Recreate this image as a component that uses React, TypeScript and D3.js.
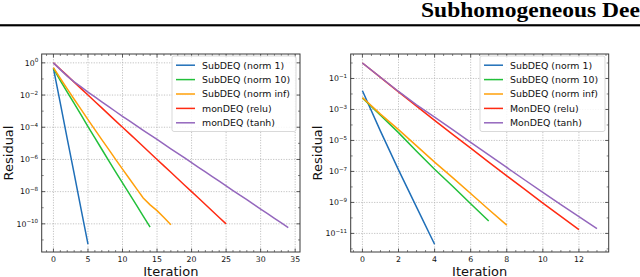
import React from "react";
import * as d3 from "d3";

// ---------- data (residual per iteration) ----------
const leftNames = ["SubDEQ (norm 1)", "SubDEQ (norm 10)", "SubDEQ (norm inf)", "monDEQ (relu)", "monDEQ (tanh)"];
const rightNames = ["SubDEQ (norm 1)", "SubDEQ (norm 10)", "SubDEQ (norm inf)", "MonDEQ (relu)", "MonDEQ (tanh)"];
const colors = ["#1f6fb8", "#22c03a", "#ffa00a", "#ff2a12", "#9467bd"];

const leftNorm1 = [4.5e-1, 3.0e-3, 1.9e-5, 1.3e-7, 8.3e-10, 5.5e-12];
const leftNorm10 = [4.5e-1, 7.9e-2, 1.5e-2, 3.0e-3, 5.8e-4, 1.1e-4, 2.2e-5, 4.3e-6, 8.5e-7, 1.7e-7, 3.5e-8, 7.2e-9, 1.5e-9, 3.0e-10, 6.3e-11];
const leftNormInf = [5.0e-1, 1.07e-1, 2.4e-2, 5.5e-3, 1.3e-3, 3.0e-4, 7.1e-5, 1.7e-5, 4.2e-6, 1.0e-6, 2.5e-7, 6.3e-8, 1.6e-8, 4.0e-9, 1.5e-9, 6.6e-10, 2.5e-10, 8.7e-11];
const leftRelu = [1.0, 4.0e-1, 1.6e-1, 6.3e-2, 2.5e-2, 1.0e-2, 4.0e-3, 1.6e-3, 6.3e-4, 2.5e-4, 1.0e-4, 4.0e-5, 1.6e-5, 6.3e-6, 2.5e-6, 1.0e-6, 4.0e-7, 1.6e-7, 6.3e-8, 2.5e-8, 1.0e-8, 4.0e-9, 1.6e-9, 6.3e-10, 2.5e-10, 1.0e-10];
const leftTanh = [1.0, 3.8e-1, 1.5e-1, 6.6e-2, 3.2e-2, 1.5e-2, 7.6e-3, 3.8e-3, 1.9e-3, 9.5e-4, 4.8e-4, 2.5e-4, 1.26e-4, 6.5e-5, 3.4e-5, 1.74e-5, 8.9e-6, 4.6e-6, 2.4e-6, 1.23e-6, 6.3e-7, 3.2e-7, 1.66e-7, 8.7e-8, 4.5e-8, 2.3e-8, 1.17e-8, 6.0e-9, 3.2e-9, 1.62e-9, 8.3e-10, 4.3e-10, 2.2e-10, 1.15e-10, 5.9e-11];

const rightNorm1 = [1.6e-2, 4.0e-5, 1.26e-7, 5.0e-10, 2.0e-12];
const rightNorm10 = [5.5e-3, 4.2e-4, 3.2e-5, 2.0e-6, 1.4e-7, 1.1e-8, 8.3e-10, 6.3e-11];
const rightNormInf = [5.8e-3, 5.0e-4, 5.0e-5, 4.5e-6, 4.0e-7, 4.0e-8, 3.8e-9, 3.5e-10, 3.4e-11];
const rightRelu = [1.0, 1.17e-1, 1.38e-2, 1.66e-3, 2.0e-4, 2.5e-5, 3.2e-6, 4.0e-7, 5.2e-8, 6.9e-9, 9.1e-10, 1.26e-10, 1.74e-11];
const rightTanh = [1.0, 1.2e-1, 1.45e-2, 2.0e-3, 3.2e-4, 5.0e-5, 7.6e-6, 1.17e-6, 1.8e-7, 2.8e-8, 4.5e-9, 7.2e-10, 1.2e-10, 2.0e-11];

// ticks
const leftXTicks = [0, 5, 10, 15, 20, 25, 30, 35];
const rightXTicks = [0, 2, 4, 6, 8, 10, 12];
const leftYExp = [0, -2, -4, -6, -8, -10];
const leftYMinorExp = [-1, -3, -5, -7, -9, -11];
const rightYExp = [-1, -3, -5, -7, -9, -11];
const rightYMinorExp = [0, -2, -4, -6, -8, -10, -12];

const FONT = "DejaVu Sans";

type PanelProps = {
  x0: number; x1: number; y0: number; y1: number;
  xDomain: [number, number]; yDomain: [number, number];
  xTicks: number[]; xMinorStep: number;
  yExp: number[]; yMinorExp: number[];
  series: number[][]; names: string[];
  legend: { x: number; y: number; w: number; h: number };
  ylabelX: number;
};

function Panel(p: PanelProps) {
  const xs = d3.scaleLinear().domain(p.xDomain).range([p.x0, p.x1]);
  const ys = d3.scaleLog().domain(p.yDomain).range([p.y1, p.y0]);
  const line = d3.line<number>().x((_, i) => xs(i)).y((d) => ys(d));
  const minor: number[] = d3.range(Math.ceil(p.xDomain[0] / p.xMinorStep) * p.xMinorStep, p.xDomain[1], p.xMinorStep)
    .filter((v) => !p.xTicks.some((t) => Math.abs(t - v) < 1e-9));
  const maj = 3.5, mn = 2;
  const tickColor = "#333";
  const rowH = 14.4;
  return (
    <g>
      {p.xTicks.map((t) => (
        <line key={"gx" + t} x1={xs(t)} x2={xs(t)} y1={p.y0} y2={p.y1} stroke="#b4b4b4" strokeWidth={0.8} strokeDasharray="1.2,1.4" />
      ))}
      {p.yExp.map((e) => (
        <line key={"gy" + e} x1={p.x0} x2={p.x1} y1={ys(Math.pow(10, e))} y2={ys(Math.pow(10, e))} stroke="#b4b4b4" strokeWidth={0.8} strokeDasharray="1.2,1.4" />
      ))}
      {p.series.map((s, i) => (
        <path key={"s" + i} d={line(s) || ""} fill="none" stroke={colors[i]} strokeWidth={1.5} />
      ))}
      {p.xTicks.map((t) => (
        <g key={"tx" + t}>
          <line x1={xs(t)} x2={xs(t)} y1={p.y1} y2={p.y1 - maj} stroke={tickColor} strokeWidth={0.8} />
          <line x1={xs(t)} x2={xs(t)} y1={p.y0} y2={p.y0 + maj} stroke={tickColor} strokeWidth={0.8} />
          <text x={xs(t)} y={p.y1 + 10} fontSize={7.8} textAnchor="middle" fontFamily={FONT} fill="#111">{t}</text>
        </g>
      ))}
      {minor.map((t) => (
        <g key={"mx" + t}>
          <line x1={xs(t)} x2={xs(t)} y1={p.y1} y2={p.y1 - mn} stroke={tickColor} strokeWidth={0.6} />
          <line x1={xs(t)} x2={xs(t)} y1={p.y0} y2={p.y0 + mn} stroke={tickColor} strokeWidth={0.6} />
        </g>
      ))}
      {p.yExp.map((e) => {
        const y = ys(Math.pow(10, e));
        return (
          <g key={"ty" + e}>
            <line x1={p.x0} x2={p.x0 + maj} y1={y} y2={y} stroke={tickColor} strokeWidth={0.8} />
            <line x1={p.x1} x2={p.x1 - maj} y1={y} y2={y} stroke={tickColor} strokeWidth={0.8} />
            <text x={p.x0 - 3.5} y={y + 2.7} fontSize={7.8} textAnchor="end" fontFamily={FONT} fill="#111">
              10<tspan dy={-3.2} fontSize={5.6}>{e === 0 ? "0" : "\u2212" + Math.abs(e)}</tspan>
            </text>
          </g>
        );
      })}
      {p.yMinorExp.map((e) => {
        const y = ys(Math.pow(10, e));
        if (y < p.y0 || y > p.y1) return null;
        return (
          <g key={"my" + e}>
            <line x1={p.x0} x2={p.x0 + mn} y1={y} y2={y} stroke={tickColor} strokeWidth={0.6} />
            <line x1={p.x1} x2={p.x1 - mn} y1={y} y2={y} stroke={tickColor} strokeWidth={0.6} />
          </g>
        );
      })}
      <rect x={p.x0} y={p.y0} width={p.x1 - p.x0} height={p.y1 - p.y0} fill="none" stroke="#3a3a3a" strokeWidth={1} />
      <rect x={p.legend.x} y={p.legend.y} width={p.legend.w} height={p.legend.h} rx={2} fill="white" fillOpacity={0.85} stroke="#cfcfcf" strokeWidth={0.8} />
      {p.names.map((n, i) => {
        const cy = p.legend.y + 9.2 + i * rowH;
        return (
          <g key={"lg" + i}>
            <line x1={p.legend.x + 4} x2={p.legend.x + 23} y1={cy} y2={cy} stroke={colors[i]} strokeWidth={1.5} />
            <text x={p.legend.x + 30} y={cy + 3.3} fontSize={9.4} fontFamily={FONT} fill="#111">{n}</text>
          </g>
        );
      })}
      <text x={(p.x0 + p.x1) / 2} y={275.5} fontSize={13} textAnchor="middle" fontFamily={FONT} fill="#111">Iteration</text>
      <text transform={`translate(${p.ylabelX},${(p.y0 + p.y1) / 2}) rotate(-90)`} fontSize={13} textAnchor="middle" fontFamily={FONT} fill="#111">Residual</text>
    </g>
  );
}

export default function App() {
  return (
    <svg width={640} height={277} viewBox="0 0 640 277" style={{ position: "absolute", left: 0, top: 0, display: "block", background: "white" }}>
      <rect x={0} y={0} width={640} height={277} fill="white" />
      <text x={421} y={17} fontSize={20} fontWeight="bold" fontFamily="Liberation Serif" textLength={232} lengthAdjust="spacingAndGlyphs" fill="#000">Subhomogeneous Deep</text>
      <rect x={0} y={24.2} width={640} height={1.8} fill="#000" />
      <rect x={0} y={26.1} width={640} height={0.9} fill="#999" />
      <Panel
        x0={41.7} x1={300} y0={54} y1={252}
        xDomain={[-1.7, 35.7]} yDomain={[Math.pow(10, -11.75), Math.pow(10, 0.55)]}
        xTicks={leftXTicks} xMinorStep={1}
        yExp={leftYExp} yMinorExp={leftYMinorExp}
        series={[leftNorm1, leftNorm10, leftNormInf, leftRelu, leftTanh]}
        names={leftNames}
        legend={{ x: 172, y: 56, w: 124, h: 75.5 }}
        ylabelX={13}
      />
      <Panel
        x0={350.7} x1={608.7} y0={54} y1={252}
        xDomain={[-0.65, 13.65]} yDomain={[Math.pow(10, -12.2), Math.pow(10, 0.58)]}
        xTicks={rightXTicks} xMinorStep={0.5}
        yExp={rightYExp} yMinorExp={rightYMinorExp}
        series={[rightNorm1, rightNorm10, rightNormInf, rightRelu, rightTanh]}
        names={rightNames}
        legend={{ x: 480, y: 56, w: 125, h: 75.5 }}
        ylabelX={322.3}
      />
    </svg>
  );
}
